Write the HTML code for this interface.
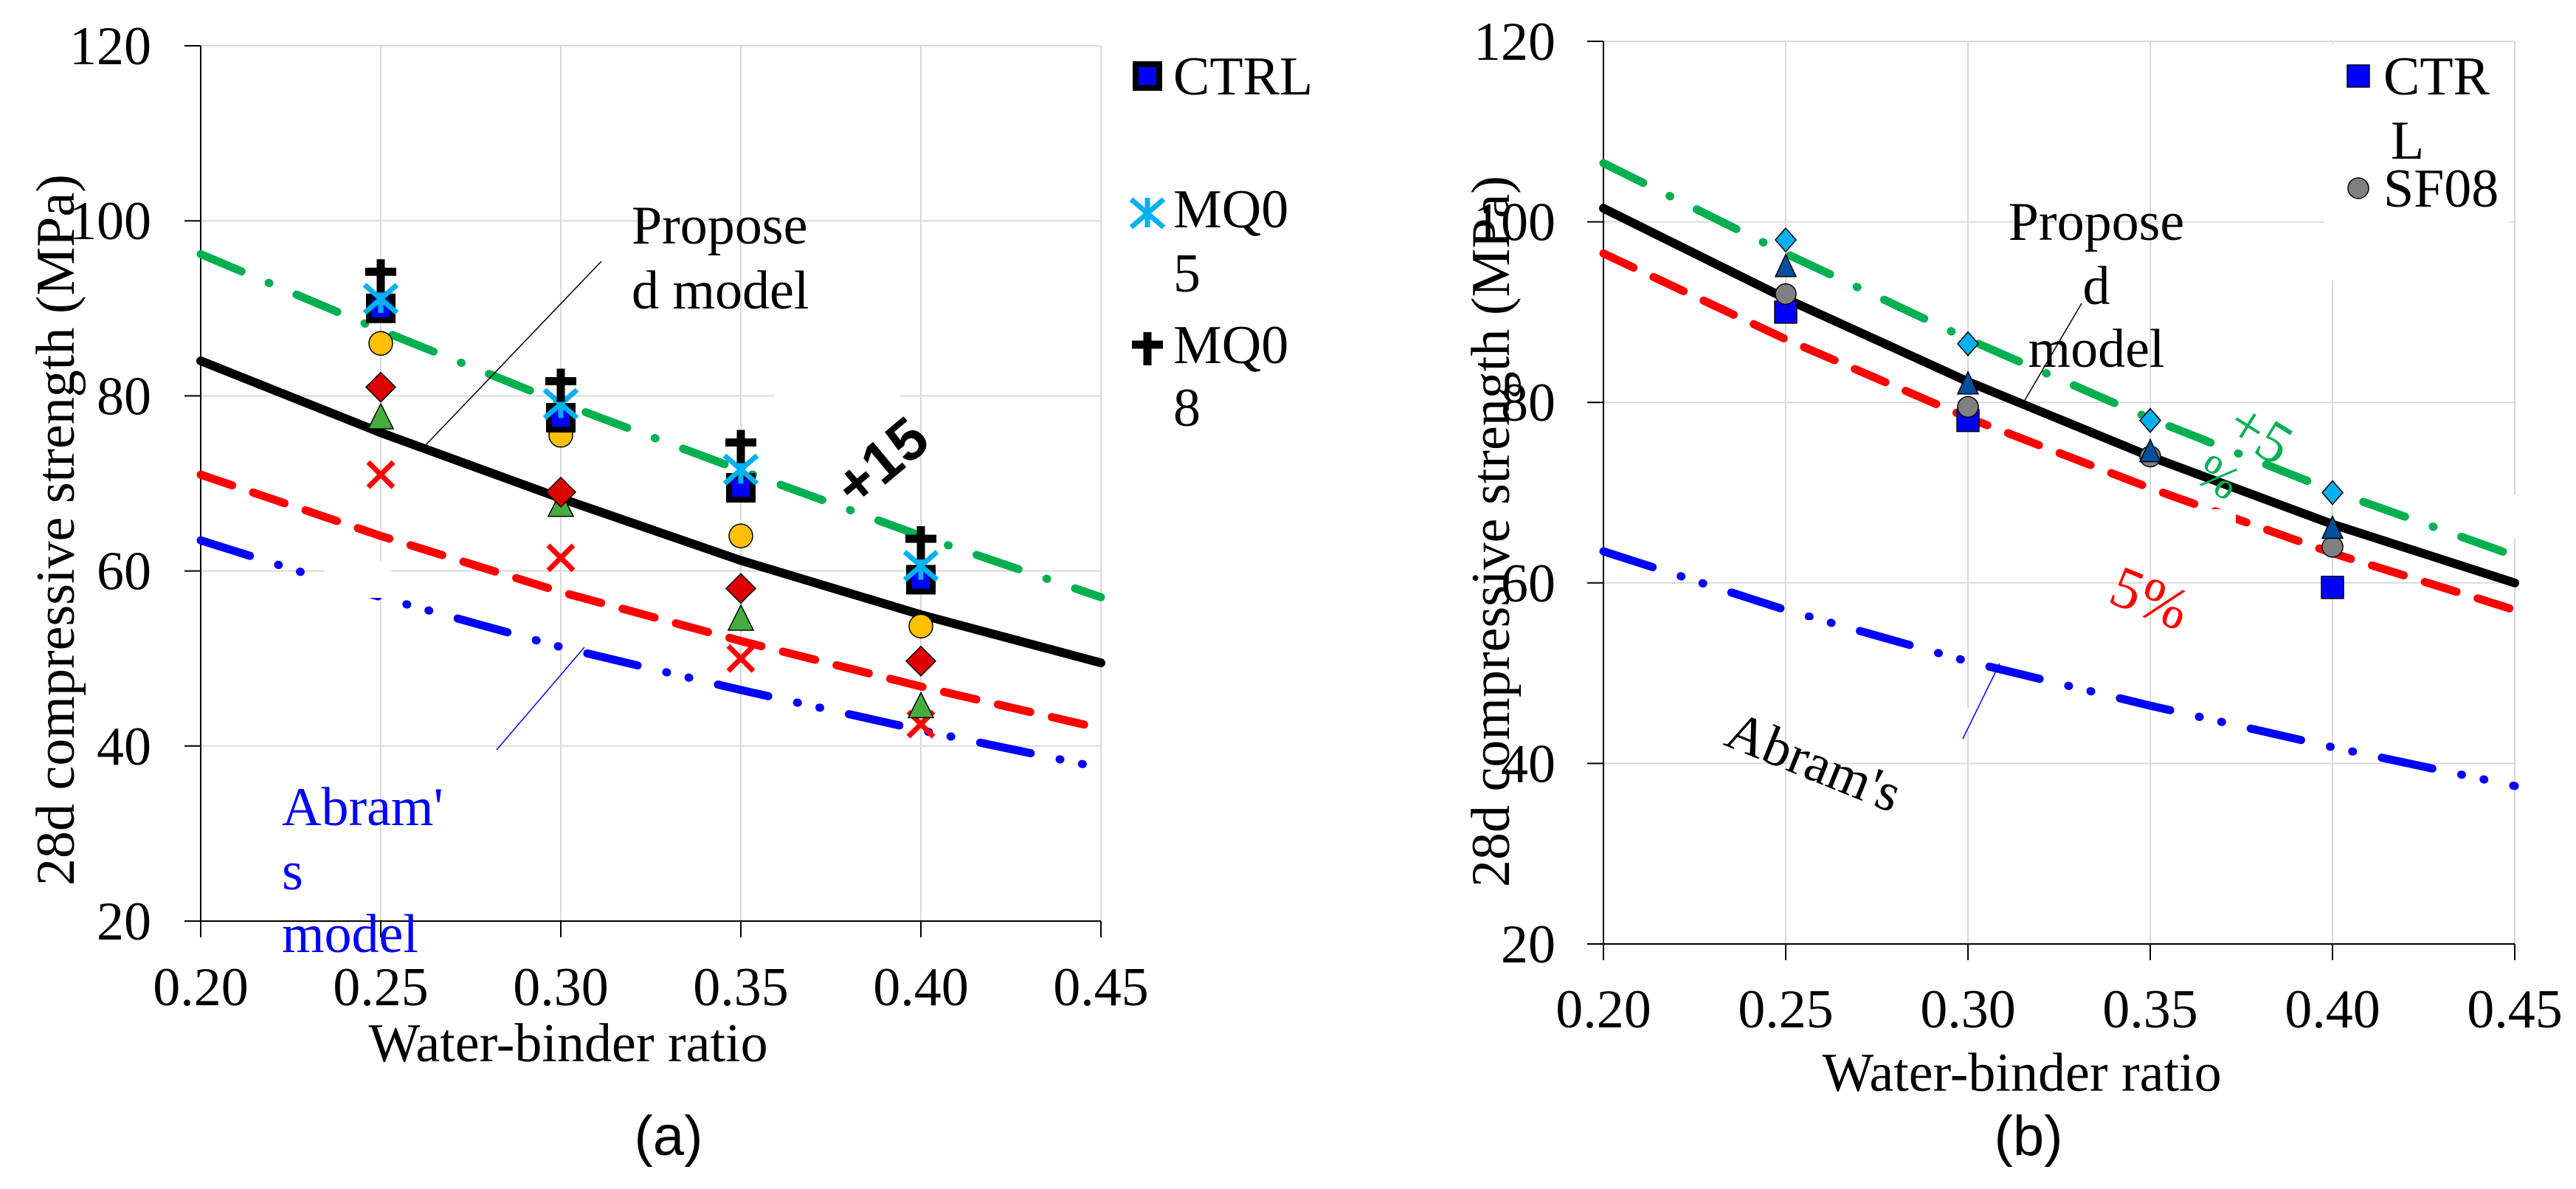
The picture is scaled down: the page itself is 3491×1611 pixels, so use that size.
<!DOCTYPE html>
<html><head><meta charset="utf-8"><style>
html,body{margin:0;padding:0;background:#fff}
svg{display:block}
</style></head><body>
<svg id="fig" width="3491" height="1611" viewBox="0 0 3491 1611" xmlns="http://www.w3.org/2000/svg">
<g id="pa"></g>
<g id="pb"></g>
</svg>
<script>
// ---- shared data ----
const xTicks = [0.20, 0.25, 0.30, 0.35, 0.40, 0.45];
const xTickLabels = ["0.20","0.25","0.30","0.35","0.40","0.45"];
const yTicks = [20, 40, 60, 80, 100, 120];
const yTickLabels = ["20","40","60","80","100","120"];
const markerX = [0.25, 0.30, 0.35, 0.40];

// ---- panel (a) data ----
const aGreen = [96.2, 87.5, 79.2, 71.5, 64, 57];
const aBlack = [84, 75.8, 68.3, 61.2, 55, 49.5];
const aRed = [71, 64, 57.6, 52, 46.8, 42];
const aBlue = [63.5, 57, 51.3, 46.4, 41.8, 37.5];
const aCTRL = [90, 77.5, 69.5, 59];
const aMQ05 = [91, 79, 71.5, 60.5];
const aMQ08 = [93.5, 81, 74, 63];
const aOrange = [86, 75.5, 64, 53.7];
const aDiamond = [81, 69, 58, 49.7];
const aTriangle = [77.5, 67.5, 54.5, 44.5];
const aCross = [71, 61.5, 50, 42.5];

// ---- panel (b) data ----
const bGreen = [106.5, 96.5, 87, 78.2, 70.2, 63];
const bBlack = [101.5, 91.5, 82.3, 74, 66.5, 60];
const bRed = [96.5, 87, 78.3, 70.5, 63.3, 57];
const bBlue = [63.5, 57, 51.3, 46.4, 41.8, 37.5];
const bDiamond = [98, 86.5, 78, 70];
const bTriangle = [95, 82, 74.5, 66];
const bCircle = [92, 79.5, 74, 64];
const bSquareX = [0.25, 0.30, 0.40];
const bSquare = [90, 78, 59.5];

const NS = "http://www.w3.org/2000/svg";
const SERIF = "font-family:'Liberation Serif','DejaVu Serif',serif";
const SANS = "font-family:'Liberation Sans','DejaVu Sans',sans-serif";
function mk(parent, tag, attrs, text){
  const e = document.createElementNS(NS, tag);
  for (const k in attrs) e.setAttribute(k, attrs[k]);
  if (tag === "text" && !attrs.style) e.setAttribute("style", SERIF);
  if (text !== undefined) e.textContent = text;
  parent.appendChild(e);
  return e;
}

function panel(g, P){
  const sx = v => P.x0 + (v - 0.20) / 0.25 * (P.x1 - P.x0);
  const sy = v => P.y20 + (v - 20) / 100 * (P.y120 - P.y20);
  yTicks.forEach(t => {
    const l = mk(g, "line", {x1:P.x0, x2:P.x1, y1:sy(t), y2:sy(t), stroke:"#d9d9d9", "stroke-width":2});
    
    
  });
  xTicks.forEach(t => {
    const l = mk(g, "line", {x1:sx(t), x2:sx(t), y1:P.y120, y2:P.y20, stroke:"#d9d9d9", "stroke-width":2});
    
    
  });
  const ax = mk(g, "line", {x1:P.x0-22, x2:P.x1, y1:P.y20, y2:P.y20, stroke:"#000", "stroke-width":2});
  
  
  const ay = mk(g, "line", {x1:P.x0, x2:P.x0, y1:P.y120, y2:P.y20+22, stroke:"#000", "stroke-width":2});
  
  
  yTicks.forEach((t, i) => {
    const tk = mk(g, "line", {x1:P.x0-22, x2:P.x0, y1:sy(t), y2:sy(t), stroke:"#000", "stroke-width":2});
    
    
    const tl = mk(g, "text", {x:P.ylabX, y:sy(t)+25, "text-anchor":"end", "font-size":74}, yTickLabels[i]);
    
    
  });
  xTicks.forEach((t, i) => {
    const tk = mk(g, "line", {x1:sx(t), x2:sx(t), y1:P.y20, y2:P.y20+22, stroke:"#000", "stroke-width":2});
    
    
    const tl = mk(g, "text", {x:sx(t), y:P.xlabY, "text-anchor":"middle", "font-size":74}, xTickLabels[i]);
    
    
  });
  const xt = mk(g, "text", {x:P.xtX, y:P.xtY, "text-anchor":"middle", "font-size":74}, "Water-binder ratio");
  
  
  const yt = mk(g, "text", {x:0, y:0, "text-anchor":"middle", "font-size":74, transform:`translate(${P.ytX},${P.ytY}) rotate(-90)`}, "28d compressive strength (MPa)");
  
  
  const cap = mk(g, "text", {x:P.capX, y:1565, "text-anchor":"middle", "font-size":76, style:SANS}, P.cap);
  
  

  function curve(vals, color, w, dash, name){
    const pts = vals.map((v, i) => sx(xTicks[i]) + "," + sy(v)).join(" ");
    const p = mk(g, "polyline", {points:pts, fill:"none", stroke:color, "stroke-width":w, "stroke-dasharray":dash, "stroke-linecap":"round"});
    
    
  }
  curve(P.green, "#00b050", 11, "60,40,1,40", "plus-15-percent-line");
  curve(P.red, "#ff0000", 11, "45,30", "minus-15-percent-line");
  curve(P.blue, "#0000ff", 11, "70,40,1,30,1,40", "abrams-model-line");
  curve(P.black, "#000000", 12, "none", "proposed-model-line");
  (P.patches || []).forEach(r => {
    const w = mk(g, "rect", {x:r[0], y:r[1], width:r[2], height:r[3], fill:"#fff"});
    
    
  });
  return {sx, sy};
}

function marker(g, type, cx, cy, name){
  let e;
  const s = 20;
  if (type === "square") e = mk(g, "rect", {x:cx-s+4, y:cy-s+4, width:2*s-8, height:2*s-8, fill:"#0000ff", stroke:"#000", "stroke-width":8});
  else if (type === "squareb") e = mk(g, "rect", {x:cx-15, y:cy-15, width:30, height:30, fill:"#0000ff", stroke:"#000", "stroke-width":1.5});
  else if (type === "circle") e = mk(g, "circle", {cx, cy, r:16, fill:"#ffc000", stroke:"#000", "stroke-width":1.5});
  else if (type === "gcircle") e = mk(g, "circle", {cx, cy, r:14, fill:"#808080", stroke:"#000", "stroke-width":1.5});
  else if (type === "diamond") e = mk(g, "polygon", {points:`${cx},${cy-20} ${cx+20},${cy} ${cx},${cy+20} ${cx-20},${cy}`, fill:"#dd0000", stroke:"#000", "stroke-width":1.5});
  else if (type === "cdiamond") e = mk(g, "polygon", {points:`${cx},${cy-16} ${cx+14},${cy} ${cx},${cy+16} ${cx-14},${cy}`, fill:"#00b0f0", stroke:"#000", "stroke-width":1.5});
  else if (type === "triangle") e = mk(g, "polygon", {points:`${cx},${cy-19} ${cx+17},${cy+15} ${cx-17},${cy+15}`, fill:"#46ad3c", stroke:"#000", "stroke-width":1.5});
  else if (type === "btriangle") e = mk(g, "polygon", {points:`${cx},${cy-17} ${cx+14},${cy+13} ${cx-14},${cy+13}`, fill:"#00509d", stroke:"#000", "stroke-width":1.5});
  else if (type === "cross") e = mk(g, "path", {d:`M${cx-17},${cy-17}L${cx+17},${cy+17}M${cx+17},${cy-17}L${cx-17},${cy+17}`, stroke:"#ff0000", "stroke-width":7, fill:"none"});
  else if (type === "star") e = mk(g, "path", {d:`M${cx},${cy-22}L${cx},${cy+18}M${cx-22},${cy-20}L${cx+22},${cy+18}M${cx+22},${cy-20}L${cx-22},${cy+18}`, stroke:"#00b0f0", "stroke-width":7, fill:"none"});
  else if (type === "plus") e = mk(g, "path", {d:`M${cx},${cy-25}L${cx},${cy+20}M${cx-21},${cy-8}L${cx+21},${cy-8}`, stroke:"#000", "stroke-width":11, fill:"none"});
  
  
}

// ---- panel a ----
const ga = document.getElementById("pa");
const A = panel(ga, {x0:272, x1:1492, y20:1248, y120:62, ylabX:205, xlabY:1362, xtX:770, xtY:1438, ytX:100, ytY:718, capX:906, cap:"(a)",
  green:aGreen, black:aBlack, red:aRed, blue:aBlue,
  patches:[[650,665,50,40],[440,760,90,50],[1050,520,170,25]]});
function seriesA(arr, type, name){ arr.forEach((v,i)=>marker(ga, type, A.sx(markerX[i]), A.sy(v), name)); }
seriesA(aCross, "cross", "marker-cross");
seriesA(aTriangle, "triangle", "marker-triangle");
seriesA(aDiamond, "diamond", "marker-diamond");
seriesA(aOrange, "circle", "marker-circle");
seriesA(aCTRL, "square", "marker-ctrl");
seriesA(aMQ05, "star", "marker-mq05");
seriesA(aMQ08, "plus", "marker-mq08");
[["Propose",856,330],["d model",856,418]].forEach(t=>{const e=mk(ga,"text",{x:t[1],y:t[2],"font-size":74},t[0]);});
[["Abram'",382,1118],["s",382,1205],["model",382,1290]].forEach(t=>{const e=mk(ga,"text",{x:t[1],y:t[2],"font-size":74,fill:"#0000ff"},t[0]);});
{const e=mk(ga,"line",{x1:815,y1:354,x2:575,y2:605,stroke:"#000","stroke-width":1.5});}
{const e=mk(ga,"line",{x1:792,y1:877,x2:673,y2:1016,stroke:"#0000ff","stroke-width":1.5});}
{const e=mk(ga,"text",{x:0,y:0,"font-size":80,"font-weight":"bold",style:SANS,transform:"translate(1160,690) rotate(-40)"},"+15");}
marker(ga,"square",1555,103,"legend-ctrl-marker");
marker(ga,"star",1555,290,"legend-mq05-marker");
marker(ga,"plus",1555,475,"legend-mq08-marker");
[["CTRL",1590,128],["MQ0",1590,308],["5",1590,395],["MQ0",1590,492],["8",1590,577]].forEach(t=>{const e=mk(ga,"text",{x:t[1],y:t[2],"font-size":74},t[0]);});

// ---- panel b ----
const gb = document.getElementById("pb");
const B = panel(gb, {x0:2173, x1:3408, y20:1279, y120:56, ylabX:2108, xlabY:1392, xtX:2740, xtY:1478, ytX:2045, ytY:720, capX:2749, cap:"(b)",
  green:bGreen, black:bBlack, red:bRed, blue:bBlue,
  patches:[[2980,690,50,60],[3370,670,60,60],[2630,960,140,30],[2430,840,40,300],[3150,60,250,320]]});
bSquare.forEach((v,i)=>marker(gb,"squareb",B.sx(bSquareX[i]),B.sy(v),"marker-ctrl"));
bCircle.forEach((v,i)=>marker(gb,"gcircle",B.sx(markerX[i]),B.sy(v),"marker-sf08"));
bTriangle.forEach((v,i)=>marker(gb,"btriangle",B.sx(markerX[i]),B.sy(v),"marker-triangle"));
bDiamond.forEach((v,i)=>marker(gb,"cdiamond",B.sx(markerX[i]),B.sy(v),"marker-diamond"));
[["Propose",2841,325],["d",2841,412],["model",2841,497]].forEach(t=>{const e=mk(gb,"text",{x:t[1],y:t[2],"font-size":74,"text-anchor":"middle"},t[0]);});
{const e=mk(gb,"line",{x1:2821,y1:411,x2:2743,y2:544,stroke:"#000","stroke-width":1.5});}
{const e=mk(gb,"line",{x1:2710,y1:899,x2:2660,y2:1001,stroke:"#0000ff","stroke-width":1.5});}
{const e=mk(gb,"text",{x:0,y:0,"font-size":74,"text-anchor":"middle",transform:"translate(2449,1055) rotate(22)"},"Abram's");}
{const e=mk(gb,"text",{x:0,y:0,"font-size":80,"fill":"#00b050","text-anchor":"middle",transform:"translate(3049,610) rotate(32)"},"+5");}
{const e=mk(gb,"text",{x:0,y:0,"font-size":66,"fill":"#00b050","text-anchor":"middle",transform:"translate(2995,665) rotate(32)"},"%");}
{const e=mk(gb,"text",{x:0,y:0,"font-size":80,"fill":"#ff0000","text-anchor":"middle",transform:"translate(2904,835) rotate(22)"},"5%");}
marker(gb,"squareb",3196,103,"legend-ctrl-marker");
marker(gb,"gcircle",3196,255,"legend-sf08-marker");
[["CTR",3230,128],["L",3240,215],["SF08",3230,280]].forEach(t=>{const e=mk(gb,"text",{x:t[1],y:t[2],"font-size":74},t[0]);});
</script>
</body></html>
